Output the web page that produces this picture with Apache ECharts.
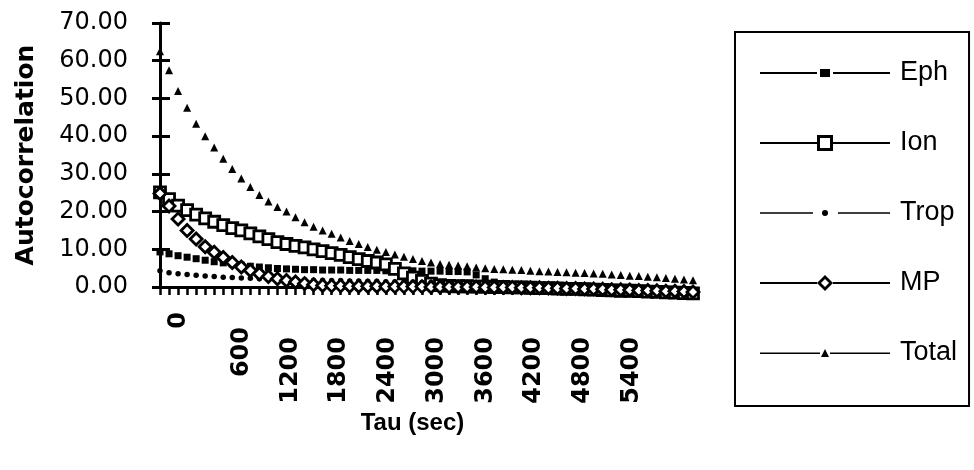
<!DOCTYPE html>
<html><head><meta charset="utf-8">
<script src="https://cdn.jsdelivr.net/npm/echarts@6/dist/echarts.min.js"></script>
<style>html,body{margin:0;padding:0;background:#fff}#c{width:974px;height:470px}</style>
</head><body><div id="c"></div>
<script>
// Lag (seconds) of each plotted point
const tauSec = [0,120,240,360,480,600,720,840,960,1080,1200,1320,1440,1560,1680,1800,1920,2040,2160,2280,
  2400,2520,2640,2760,2880,3000,3120,3240,3360,3480,3600,3720,3840,3960,4080,4200,4320,4440,4560,4680,
  4800,4920,5040,5160,5280,5400,5520,5640,5760,5880,6000,6120,6240,6360,6480,6600,6720,6840,6960,7080];
// Tick labels printed under the x axis
const tauTickLabels = [0,600,1200,1800,2400,3000,3600,4200,4800,5400];
const yTicks = {min: 0, max: 70, step: 10};

const eph = [9.3,8.8,8.3,7.9,7.5,7.1,6.7,6.4,6.1,5.8,5.5,5.3,5.1,4.9,4.8,4.7,4.6,4.6,4.5,4.5,
  4.5,4.4,4.4,4.4,4.4,4.3,4.3,4.3,4.3,4.2,4.2,4.2,4.1,4.1,4.0,3.2,2.2,1.3,0.6,0.2,
  0.0,-0.1,-0.2,-0.3,-0.4,-0.5,-0.6,-0.8,-0.9,-1.0,-1.2,-1.3,-1.4,-1.6,-1.7,-1.8,-2.0,-2.1,-2.2,-2.3];
const ion = [25.1,23.3,21.6,20.4,19.2,18.2,17.3,16.4,15.6,15.0,14.2,13.4,12.7,11.9,11.4,10.9,10.5,10.0,9.5,9.0,
  8.5,7.9,7.4,6.9,6.5,6.0,4.8,3.6,2.5,1.6,0.9,0.5,0.3,0.2,0.2,0.1,0.1,0.0,0.0,-0.1,
  -0.1,-0.2,-0.3,-0.3,-0.4,-0.5,-0.5,-0.6,-0.7,-0.8,-0.9,-1.0,-1.0,-1.1,-1.2,-1.3,-1.4,-1.5,-1.6,-1.7];
const trop = [4.3,3.8,3.5,3.3,3.1,2.9,2.8,2.6,2.5,2.4,2.3,2.2,2.1,2.0,2.0,1.9,1.9,1.8,1.8,1.7,
  1.7,1.6,1.6,1.5,1.5,1.4,1.4,1.3,1.3,1.2,1.2,1.1,1.1,1.0,1.0,0.9,0.9,0.8,0.8,0.7,
  0.7,0.6,0.5,0.5,0.4,0.3,0.3,0.2,0.1,0.1,0.0,-0.1,-0.2,-0.3,-0.4,-0.5,-0.6,-0.7,-0.8,-0.9];
const mp = [24.8,21.5,18.0,15.0,12.7,10.7,9.2,7.8,6.5,5.3,4.4,3.5,2.8,2.2,1.7,1.3,0.9,0.6,0.4,0.3,
  0.3,0.2,0.2,0.2,0.2,0.1,0.1,0.1,0.1,0.1,0.0,0.0,0.0,0.0,0.0,0.0,-0.1,-0.1,-0.1,-0.1,
  -0.2,-0.2,-0.2,-0.3,-0.3,-0.4,-0.4,-0.5,-0.5,-0.6,-0.7,-0.7,-0.8,-0.9,-0.9,-1.0,-1.1,-1.1,-1.2,-1.3];
const total = [62.5,57.5,52.0,47.5,43.3,40.0,37.0,34.0,31.3,28.8,26.5,24.4,22.7,21.2,20.0,18.5,17.2,16.0,15.0,14.1,
  13.1,12.2,11.4,10.6,9.9,9.3,8.6,8.0,7.4,6.9,6.5,6.1,5.9,5.7,5.5,5.2,5.0,4.8,4.7,4.6,
  4.5,4.3,4.2,4.1,4.0,3.9,3.8,3.7,3.6,3.5,3.3,3.2,3.0,2.9,2.7,2.6,2.4,2.2,2.0,1.8];

const seriesNames = ['Eph','Ion','Trop','MP','Total'];

const chart = echarts.init(document.getElementById('c'), null, {renderer: 'canvas'});
const black = '#000';
const labelFont = {fontFamily: 'DejaVu Sans', fontWeight: 'bold', fontSize: 24, color: black};

function markerSeries(name, data, symbol, size, filled, z) {
  return {
    name, type: 'line', data, xAxisIndex: 0, yAxisIndex: 0,
    symbol, symbolSize: size, showSymbol: true, showAllSymbol: true,
    clip: false, silent: true, z,
    lineStyle: {opacity: 0, width: 0},
    itemStyle: filled ? {color: black, borderWidth: 0}
                      : {color: '#fff', borderColor: black, borderWidth: 2.8},
    emphasis: {disabled: true}
  };
}

chart.setOption({
  animation: false,
  backgroundColor: '#fff',
  grid: {left: 160, top: 23, width: 533, height: 264},
  xAxis: [
    {
      type: 'category', data: tauSec, boundaryGap: false, position: 'bottom',
      axisLine: {show: true, onZero: false, lineStyle: {color: black, width: 3}},
      axisTick: {show: true, interval: 0, length: 8, lineStyle: {color: black, width: 2.5}},
      axisLabel: {show: false}, splitLine: {show: false}
    },
    {
      type: 'value', position: 'bottom', min: -406, max: 6154,
      axisLine: {show: false, onZero: false}, axisTick: {show: false}, splitLine: {show: false},
      axisLabel: Object.assign({
        customValues: tauTickLabels, rotate: 90, margin: 25,
        formatter: v => '{s' + String(v).length + '|' + v + '}',
        rich: {
          s1: Object.assign({padding: [0, 0, 28, 0]}, labelFont),
          s3: Object.assign({padding: [0, 15, 0, 0]}, labelFont),
          s4: Object.assign({padding: [0, 25, 0, 0]}, labelFont)
        }
      }, labelFont),
      name: 'Tau (sec)', nameLocation: 'middle', nameGap: 121,
      nameTextStyle: {fontFamily: 'Liberation Sans', fontWeight: 'bold', fontSize: 24, color: black, padding: [0, 28, 0, 0]}
    }
  ],
  yAxis: [
    {
      type: 'value', position: 'left', min: yTicks.min, max: yTicks.max, interval: yTicks.step,
      axisLine: {show: true, onZero: false, lineStyle: {color: black, width: 3}},
      axisTick: {show: true, length: 8, lineStyle: {color: black, width: 3}},
      splitLine: {show: false},
      axisLabel: {margin: 32, formatter: v => v.toFixed(2), fontFamily: 'DejaVu Sans', fontSize: 24, color: black},
      name: 'Autocorrelation', nameLocation: 'middle', nameGap: 121,
      nameTextStyle: {fontFamily: 'DejaVu Sans', fontWeight: 'bold', fontSize: 25, color: black}
    },
    {
      type: 'value', position: 'left', min: yTicks.min, max: yTicks.max, interval: yTicks.step,
      axisLine: {show: false, onZero: false},
      axisTick: {show: true, inside: true, length: 10, lineStyle: {color: black, width: 3}},
      axisLabel: {show: false}, splitLine: {show: false}
    }
  ],
  legend: {
    orient: 'vertical', left: 735, top: 32,
    padding: [26, 12, 38, 25],
    borderColor: black, borderWidth: 2,
    itemWidth: 130, itemHeight: 16, itemGap: 40,
    itemStyle: {color: black, borderWidth: 0},
    textStyle: {fontFamily: 'Liberation Sans', fontSize: 27, color: black, lineHeight: 30, padding: [0, 0, 0, 5]},
    selectedMode: false,
    data: [
      {name: seriesNames[0], icon: 'path://M0 4H57V6H0Z M60 1H70V9H60Z M73 4H130V6H73Z'},
      {name: seriesNames[1], icon: 'path://M0 7H57V9H0Z M57 0H73V16H57Z M60 3V13H70V3Z M73 7H130V9H73Z'},
      {name: seriesNames[2], icon: 'path://M0 4H53V5.5H0Z M78 4H130V5.5H78Z M62 4.75A3 3 0 1 0 68 4.75A3 3 0 1 0 62 4.75Z'},
      {name: seriesNames[3], icon: 'path://M0 7H57V9H0Z M65 0L73 8L65 16L57 8Z M65 4L61 8L65 12L69 8Z M73 7H130V9H73Z'},
      {name: seriesNames[4], icon: 'path://M0 3.5H60V5H0Z M65 0L69 8H61Z M70 3.5H130V5H70Z'}
    ]
  },
  series: [
    markerSeries(seriesNames[0], eph, 'rect', 7, true, 2),
    markerSeries(seriesNames[1], ion, 'rect', 11, false, 3),
    markerSeries(seriesNames[2], trop, 'circle', 5.5, true, 4),
    markerSeries(seriesNames[3], mp, 'diamond', 12, false, 5),
    markerSeries(seriesNames[4], total, 'triangle', 8, true, 6)
  ]
});
</script></body></html>
